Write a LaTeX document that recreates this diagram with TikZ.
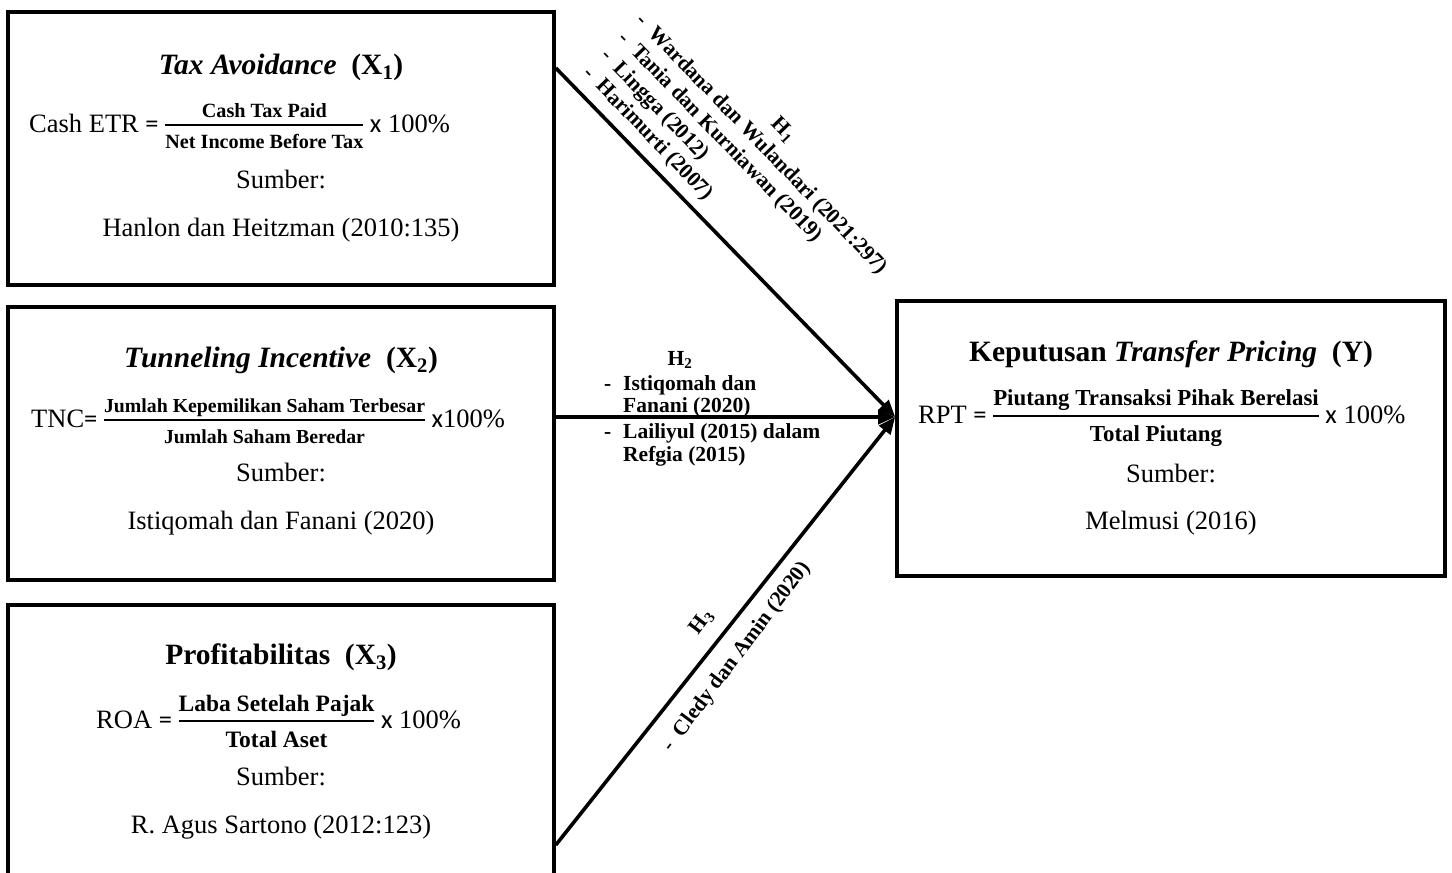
\documentclass[tikz,border=0pt]{standalone}
\usepackage{fontspec}
\setmainfont{Liberation Serif}
\newfontfamily\carl{Carlito}
\usetikzlibrary{arrows.meta}
\newcommand\bodyf{\fontsize{26.5pt}{31pt}\selectfont}
\newcommand\titlef{\fontsize{29.5pt}{34pt}\selectfont}
\newcommand\labf{\fontsize{21.5pt}{25pt}\selectfont\bfseries}
\newsavebox\frnum
\newsavebox\frden
\newlength\frw
% #1 font size, #2 numerator raise, #3 denominator drop, #4 numerator, #5 denominator
\newcommand\fr[5]{%
  \sbox\frnum{\fontsize{#1}{#1}\selectfont\bfseries #4}%
  \sbox\frden{\fontsize{#1}{#1}\selectfont\bfseries #5}%
  \setlength\frw{\wd\frnum}\ifdim\wd\frden>\frw \setlength\frw{\wd\frden}\fi
  \mbox{\raisebox{#2}{\makebox[\frw]{\usebox\frnum}}\hspace{-\frw}%
  \raisebox{5.8pt}{\rule{\frw}{2.4pt}}\hspace{-\frw}%
  \raisebox{-#3}{\makebox[\frw]{\usebox\frden}}}}
\begin{document}
\begin{tikzpicture}[x=1pt,y=-1pt,
  box/.style={draw, line width=3.6pt, inner sep=0pt},
  txt/.style={inner sep=0pt, font=\bodyf, anchor=base},
  frm/.style={inner sep=0pt, font=\bodyf, anchor=base west},
  ttl/.style={inner sep=0pt, font=\titlef, anchor=base},
  lab/.style={inner sep=0pt, font=\labf, anchor=base west},
  hyp/.style={inner sep=0pt, font=\labf},
  link/.style={line width=3.6pt, -{Triangle[length=17pt,width=14pt]}}]
\useasboundingbox (0,0) rectangle (1452,873);
% boxes
\node[box, minimum width=546pt, minimum height=273pt] (x1) at (281,148.5) {};
\node[box, minimum width=546pt, minimum height=273pt] (x2) at (281,443.5) {};
\node[box, minimum width=546pt, minimum height=280pt] (x3) at (281,745) {};
\node[box, minimum width=548pt, minimum height=275pt] (y) at (1171,438.5) {};
% X1
\node[ttl] (t1) at (281,74) {\textbf{\textit{Tax Avoidance}}\ \ \textbf{(X\textsubscript{1})}};
\node[frm] (f1) at (29,132) {Cash ETR {\carl =} \fr{20.2pt}{15pt}{16pt}{Cash Tax Paid}{Net Income Before Tax} {\carl x} 100\%};
\node[txt] (s1) at (281,188) {Sumber:};
\node[txt] (c1) at (281,236) {Hanlon dan Heitzman (2010:135)};
% X2
\node[ttl] (t2) at (281,367) {\textbf{\textit{Tunneling Incentive}}\ \ \textbf{(X\textsubscript{2})}};
\node[frm] (f2) at (31,427) {TNC{\carl =} \fr{19.8pt}{15pt}{16pt}{Jumlah Kepemilikan Saham Terbesar}{Jumlah Saham Beredar} {\carl x}100\%};
\node[txt] (s2) at (281,481) {Sumber:};
\node[txt] (c2) at (281,529) {Istiqomah dan Fanani (2020)};
% X3
\node[ttl] (t3) at (281,664) {\textbf{Profitabilitas}\ \ \textbf{(X\textsubscript{3})}};
\node[frm] (f3) at (96,728) {ROA {\carl =} \fr{23.5pt}{17pt}{19pt}{Laba Setelah Pajak}{Total Aset} {\carl x} 100\%};
\node[txt] (s3) at (281,785) {Sumber:};
\node[txt] (c3) at (281,833) {R. Agus Sartono (2012:123)};
% Y
\node[ttl] (ty) at (1171,361) {\textbf{Keputusan \textit{Transfer Pricing}}\ \ \textbf{(Y)}};
\node[frm] (fy) at (918,423) {RPT {\carl =} \fr{22.9pt}{18pt}{18pt}{Piutang Transaksi Pihak Berelasi}{Total Piutang} {\carl x} 100\%};
\node[txt] (sy) at (1171,482) {Sumber:};
\node[txt] (cy) at (1171,529) {Melmusi (2016)};
% connectors
\coordinate (tip) at (y.west |- 0,417);
\coordinate (o1) at (x1.east |- 0,68);
\coordinate (o2) at (x2.east |- 0,417);
\coordinate (o3) at (x3.east |- 0,845);
\draw[link] (o1) -- (tip);
\draw[link] (o2) -- (tip);
\draw[link] (o3) -- (tip);
% H1
\node[hyp, rotate=-46] (h1) at (783,130) {H\textsubscript{1}};
\node[lab, rotate=-46] (h1a) at (635.3,21.7) {\makebox[18pt][l]{-}Wardana dan Wulandari (2021:297)};
\node[lab, rotate=-46] (h1b) at (617.7,39.1) {\makebox[18pt][l]{-}Tania dan Kurniawan (2019)};
\node[lab, rotate=-46] (h1c) at (600.1,56.5) {\makebox[18pt][l]{-}Lingga (2012)};
\node[lab, rotate=-46] (h1d) at (582.5,73.9) {\makebox[18pt][l]{-}Harimurti (2007)};
% H2
\node[hyp, anchor=base] (h2) at (680,365) {H\textsubscript{2}};
\node[lab] (h2a) at (604,390) {\makebox[19pt][l]{-}Istiqomah dan};
\node[lab] (h2b) at (623,412.7) {Fanani (2020)};
\node[lab] (h2c) at (604,438) {\makebox[19pt][l]{-}Lailiyul (2015) dalam};
\node[lab] (h2d) at (623,461.7) {Refgia (2015)};
% H3
\node[hyp, rotate=53] (h3) at (702,622) {H\textsubscript{3}};
\node[lab, rotate=53] (h3a) at (671.4,752.6) {\makebox[18pt][l]{-}Cledy dan Amin (2020)};
\end{tikzpicture}
\end{document}
